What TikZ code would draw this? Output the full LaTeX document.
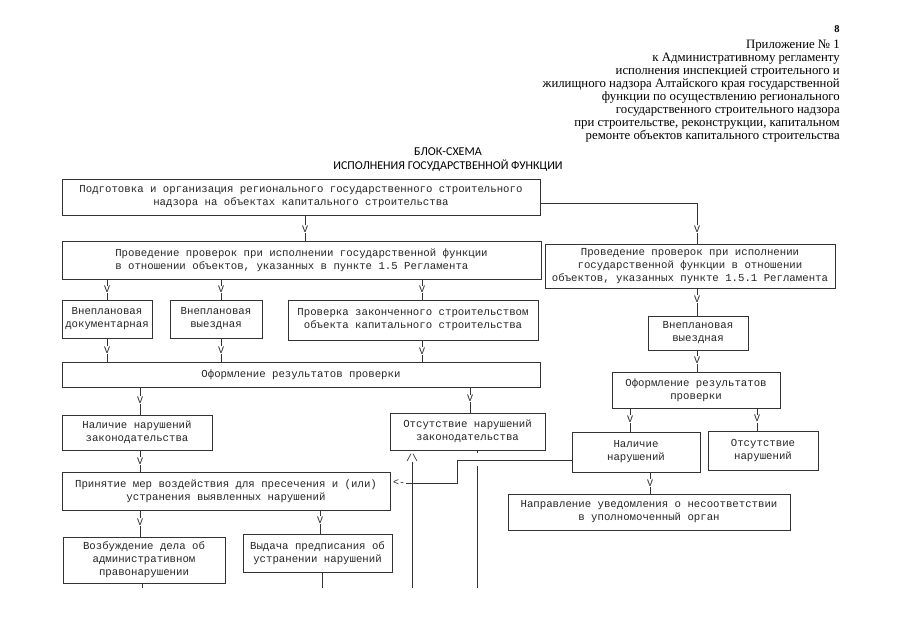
\documentclass[tikz,border=0pt]{standalone}
\usepackage{fontspec}
\setmainfont{Liberation Serif}
\newfontfamily\monof{Liberation Mono}
\newfontfamily\titlef{Carlito}
\begin{document}
\begin{tikzpicture}[x=1pt,y=-1pt,
  box/.style={draw=black!80, line width=0.8pt, fill=white, text=black!85,
    font=\monof\fontsize{10.7}{13}\selectfont, align=center, inner sep=0pt},
  conn/.style={draw=black!80, line width=0.8pt},
  vmark/.style={font=\monof\fontsize{10}{10}\selectfont, fill=white, text=black!85, inner sep=0.6pt}]
\useasboundingbox[fill=white] (0,0) rectangle (905,640);

% header
\node[font=\bfseries\fontsize{10.5}{12}\selectfont, inner sep=0pt] (pg) at (837,29) {8};
\node[anchor=north east, align=right, inner sep=0pt,
  font=\fontsize{12.8}{13}\selectfont] (hdr) at (840,40)
  {Приложение № 1\\
   к Административному регламенту\\
   исполнения инспекцией строительного и\\
   жилищного надзора Алтайского края государственной\\
   функции по осуществлению регионального\\
   государственного строительного надзора\\
   при строительстве, реконструкции, капитальном\\
   ремонте объектов капитального строительства};
\node[font=\titlef\fontsize{12}{14}\selectfont, align=center, inner sep=0pt] (title) at (448,160)
  {БЛОК-СХЕМА\\ИСПОЛНЕНИЯ ГОСУДАРСТВЕННОЙ ФУНКЦИИ};

% boxes
\node[box, minimum width=478, minimum height=36] (b1) at (301,197)
  {Подготовка и организация регионального государственного строительного\\надзора на объектах капитального строительства};
\node[box, minimum width=479, minimum height=38, align=left] (b2) at (301.5,260)
  {Проведение проверок при исполнении государственной функции\\в отношении объектов, указанных в пункте 1.5 Регламента};
\node[box, minimum width=290, minimum height=44] (r1) at (690,266)
  {Проведение проверок при исполнении\\государственной функции в отношении\\объектов, указанных пункте 1.5.1 Регламента};
\node[box, minimum width=90, minimum height=38] (b3a) at (107,319) {Внеплановая\\документарная};
\node[box, minimum width=92, minimum height=38] (b3b) at (216,319) {Внеплановая\\выездная};
\node[box, minimum width=250, minimum height=40] (b3c) at (413,320)
  {Проверка законченного строительством\\объекта капитального строительства};
\node[box, minimum width=478, minimum height=25] (b4) at (301,374.5) {Оформление результатов проверки};
\node[box, minimum width=150, minimum height=35] (b5) at (137,432.5) {Наличие нарушений\\законодательства};
\node[box, minimum width=155, minimum height=37] (b6) at (467.5,431.5) {Отсутствие нарушений\\законодательства};
\node[box, minimum width=328, minimum height=38] (b7) at (226,491)
  {Принятие мер воздействия для пресечения и (или)\\устранения выявленных нарушений};
\node[box, minimum width=162, minimum height=46] (b8) at (144,560)
  {Возбуждение дела об\\административном\\правонарушении};
\node[box, minimum width=149, minimum height=38] (b9) at (317.5,553)
  {Выдача предписания об\\устранении нарушений};
\node[box, minimum width=100, minimum height=34] (r2) at (698,333) {Внеплановая\\выездная};
\node[box, minimum width=168, minimum height=36] (r3) at (696,390) {Оформление результатов\\проверки};
\node[box, minimum width=128, minimum height=40] (r4) at (636,452) {Наличие\\нарушений};
\node[box, minimum width=110, minimum height=39] (r5) at (763,450.5) {Отсутствие\\нарушений};
\node[box, minimum width=282, minimum height=36] (r6) at (649,512)
  {Направление уведомления о несоответствии\\в уполномоченный орган};

% connectors, left column
\draw[conn] ([xshift=4]b1.south) -- ([xshift=4]b1.south |- b2.north) node[vmark, pos=0.54] (v1) {V};
\draw[conn] ([yshift=-6]b1.east) -| ([xshift=7]r1.north) node[vmark, pos=0.82] (v2) {V};
\draw[conn] (b2.south -| b3a.north) -- (b3a.north) node[vmark, midway] (v3) {V};
\draw[conn] ([xshift=5]b3b.north |- b2.south) -- ([xshift=5]b3b.north) node[vmark, midway] (v4) {V};
\draw[conn] ([xshift=9]b3c.north |- b2.south) -- ([xshift=9]b3c.north) node[vmark, midway] (v5) {V};
\draw[conn] (b3a.south) -- (b3a.south |- b4.north) node[vmark, midway] (v6) {V};
\draw[conn] ([xshift=5]b3b.south) -- ([xshift=5]b3b.south |- b4.north) node[vmark, midway] (v7) {V};
\draw[conn] ([xshift=9]b3c.south) -- ([xshift=9]b3c.south |- b4.north) node[vmark, midway] (v8) {V};
\draw[conn] ([xshift=3]b5.north |- b4.south) -- ([xshift=3]b5.north) node[vmark, pos=0.46] (v9) {V};
\draw[conn] ([xshift=2.5]b6.north |- b4.south) -- ([xshift=2.5]b6.north) node[vmark, pos=0.44] (v10) {V};
\draw[conn] ([xshift=3]b5.south) -- ([xshift=3]b5.south |- b7.north) node[vmark, midway] (v11) {V};
\draw[conn] ([xshift=-4]b8.north |- b7.south) -- ([xshift=-4]b8.north) node[vmark, pos=0.44] (v12) {V};
\draw[conn] ([xshift=2.5]b9.north |- b7.south) -- ([xshift=2.5]b9.north) node[vmark, pos=0.42] (v13) {V};

% stubs to the next page
\coordinate (e1) at (142,588);
\coordinate (e2) at (322,588);
\coordinate (e3) at (412,588);
\coordinate (e4) at (477,588);
\coordinate (g4a) at (477,453);
\coordinate (g4b) at (477,466);
\draw[conn] (b8.south -| e1) -- (e1);
\draw[conn] (b9.south -| e2) -- (e2);
\path (e3 |- b6.south) ++(0,3) node[vmark, anchor=north, inner sep=0.3pt] (up1) {/\textbackslash};
\draw[conn] (e3) -- (up1.south);
\draw[conn] (b6.south -| g4a) -- (g4a);
\draw[conn] (g4b) -- (e4);

% link from right column to b7
\coordinate (k1) at (457,460);
\coordinate (k2) at (457,483);
\draw[conn] (r4.west |- k1) -- (k1) -- (k2) -- ([xshift=14]b7.east |- k2);
\path ([xshift=2]b7.east |- k2) node[vmark, anchor=west] (arr) {<-};

% right column
\draw[conn] ([xshift=7]r1.south) -- ([xshift=7]r1.south |- r2.north) node[vmark, pos=0.38] (v14) {V};
\draw[conn] ([xshift=-1]r2.south) -- ([xshift=-1]r2.south |- r3.north) node[vmark, pos=0.45] (v15) {V};
\draw[conn] ([xshift=-6]r4.north |- r3.south) -- ([xshift=-6]r4.north) node[vmark, pos=0.46] (v16) {V};
\draw[conn] ([xshift=-6]r5.north |- r3.south) -- ([xshift=-6]r5.north) node[vmark, pos=0.46] (v17) {V};
\draw[conn] ([xshift=14]r4.south) -- ([xshift=14]r4.south |- r6.north) node[vmark, midway] (v18) {V};
\end{tikzpicture}
\end{document}
